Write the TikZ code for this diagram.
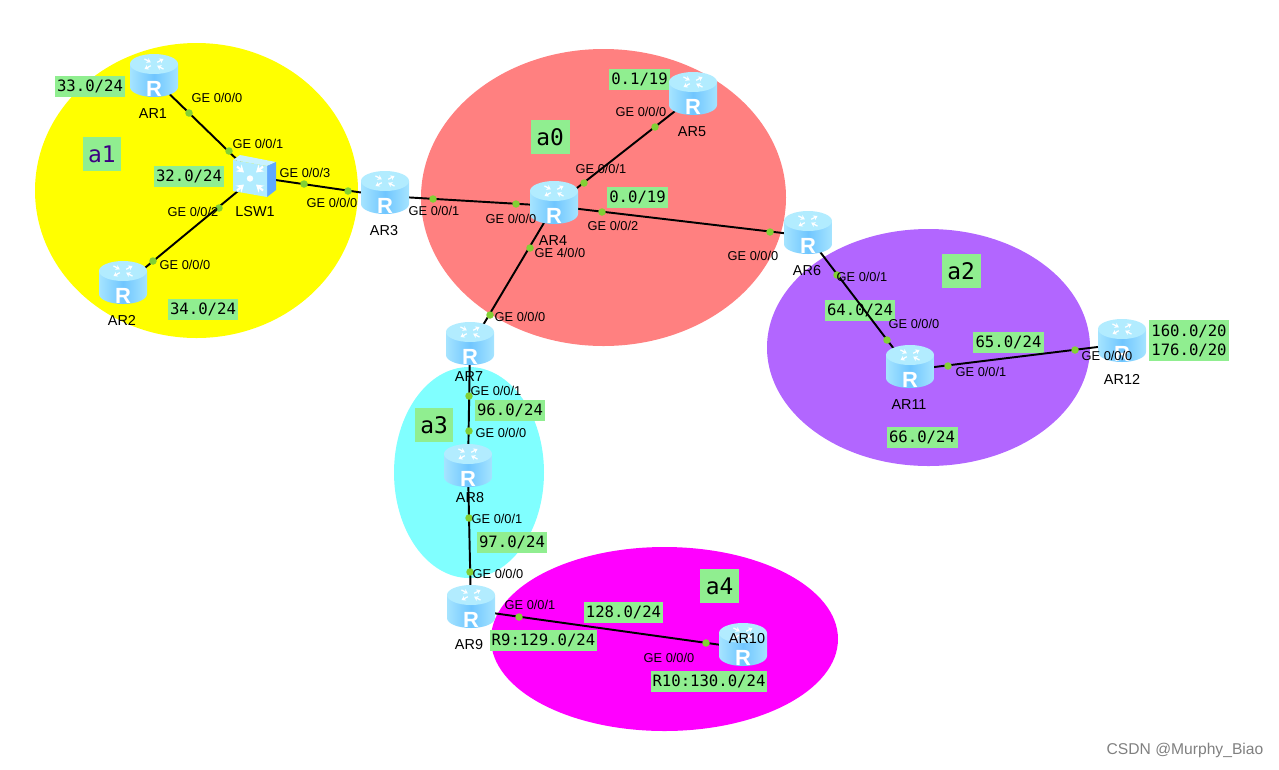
\documentclass[tikz,border=0pt]{standalone}
\usepackage{fontspec}
\setmainfont{Liberation Sans}
\setmonofont{DejaVu Sans Mono}
\usetikzlibrary{arrows.meta}
\definecolor{tagfill}{RGB}{144,238,144}
\definecolor{dotgreen}{RGB}{130,208,52}
\definecolor{yellowarea}{RGB}{255,255,0}
\definecolor{rosearea}{RGB}{255,128,128}
\definecolor{violetarea}{RGB}{178,102,255}
\definecolor{cyanarea}{RGB}{128,255,255}
\definecolor{magentaarea}{RGB}{255,0,255}
\definecolor{icontop}{RGB}{178,236,255}
\definecolor{iconside}{RGB}{112,198,255}
\definecolor{iconedge}{RGB}{165,228,255}
\definecolor{indigotext}{RGB}{60,0,130}
\tikzset{
  hub/.style={circle,inner sep=0pt,minimum size=6mm},
  link/.style={draw=black,line width=1.1pt},
  portdot/.style={circle,fill=dotgreen,inner sep=0pt,minimum size=1.5mm},
  port/.style={inner sep=0pt,font=\fontsize{7.3}{9}\selectfont},
  devname/.style={inner sep=0pt,font=\fontsize{8.2}{10}\selectfont},
  tag/.style={fill=tagfill,inner sep=0pt,minimum height=4.2mm,align=center,
    font=\ttfamily\fontsize{8.9}{10.8}\selectfont},
  areatag/.style={fill=tagfill,inner sep=0pt,minimum width=7.8mm,minimum height=6.8mm,
    text=#1,font=\ttfamily\fontsize{13}{15}\selectfont},
  areatag/.default=black,
  % pictograms
  pics/router/.style={code={
    \shade[left color=iconedge,right color=iconedge,middle color=iconside]
      (-24,-15) -- (-24,8) arc (180:0:24 and 10) -- (24,-15) -- cycle;
    \fill[icontop] (0,-15) ellipse (24 and 10);
    \foreach \a/\d in {45/1,135/-1,225/1,315/-1} {
      \draw[white,line width=0.7pt,-{Stealth[length=2.4pt,width=3pt]}]
        ({(6+3*\d)*cos(\a)*1.5},{-15+(6+3*\d)*sin(\a)*0.8}) --
        ({(6-3*\d)*cos(\a)*1.5},{-15+(6-3*\d)*sin(\a)*0.8});
    }
    \node[text=white,inner sep=0pt,font=\fontsize{12.5}{14}\selectfont\bfseries] (-r) at (0,10) {R};
  }},
  pics/l3switch/.style={code={
    \fill[icontop!70!white] (-22,-17) -- (-15,-22) -- (21,-15) -- (12,-11) -- cycle;
    \fill[iconside!85!blue] (12,-11) -- (21,-15) -- (21,13) -- (12,20) -- cycle;
    \fill[icontop] (-22,-17) -- (12,-11) -- (12,20) -- (-22,14) -- cycle;
    \fill[white] (-5,1.5) circle (3.2);
    \foreach \sx/\sy in {-1/-1,1/-1,-1/1,1/1} {
      \draw[white,line width=1.2pt,-{Stealth[length=4pt,width=5pt]}]
        ({-5+13*\sx},{1.5+12*\sy}) -- ({-5+6*\sx},{1.5+6*\sy});
    }
  }},
}
\begin{document}
\begin{tikzpicture}[x=0.02cm,y=-0.02cm]
  \useasboundingbox (0,0) rectangle (1279,769);
  % areas
  \fill[yellowarea] (196.5,190.5) ellipse (161.5 and 147.5);
  \fill[rosearea] (603.5,197.5) ellipse (182.5 and 148.5);
  \fill[violetarea] (928.5,347.5) ellipse (161.5 and 118.5);
  \fill[cyanarea] (469,472.5) ellipse (75 and 105.5);
  \fill[magentaarea] (664.5,639) ellipse (173.5 and 92);
  % network tags
  \node[areatag=indigotext] (a1) at (102,154) {a1};
  \node[areatag] (a0) at (550,137) {a0};
  \node[areatag] (a2) at (961,271) {a2};
  \node[areatag] (a3) at (434,425) {a3};
  \node[areatag] (a4) at (719.5,586) {a4};
  \node[tag,minimum width=14.2mm] (n33) at (90,86) {33.0/24};
  \node[tag,minimum width=14.2mm] (n32) at (189,176) {32.0/24};
  \node[tag,minimum width=14.2mm] (n34) at (203,309) {34.0/24};
  \node[tag,minimum width=12.2mm] (n01) at (639.5,79) {0.1/19};
  \node[tag,minimum width=12.2mm] (n00) at (637.5,197.5) {0.0/19};
  \node[tag,minimum width=14.2mm] (n64) at (860,310) {64.0/24};
  \node[tag,minimum width=14.2mm] (n65) at (1008.5,342) {65.0/24};
  \node[tag,minimum width=14.2mm] (n66) at (922,437.5) {66.0/24};
  \node[tag,minimum width=16mm,minimum height=8.2mm] (n160) at (1189,340.5) {160.0/20\\176.0/20};
  \node[tag,minimum width=14.2mm] (n96) at (510,410) {96.0/24};
  \node[tag,minimum width=14.2mm] (n97) at (512,542.5) {97.0/24};
  \node[tag,minimum width=15.8mm] (n128) at (623.5,612.5) {128.0/24};
  \node[tag,minimum width=21.4mm] (n129) at (543.5,640) {R9:129.0/24};
  \node[tag,minimum width=23.2mm] (n130) at (709,681) {R10:130.0/24};
  % devices
  \foreach \nm/\xx/\yy in {ar1/154/79,ar2/123/286,lsw1/255/177,ar3/385/196,ar4/554/206,
    ar5/693/97,ar6/808/236,ar7/470/347,ar8/468/469,ar9/471/610,ar10/743/648,ar11/910/370,ar12/1122/344}
    \node[hub] (\nm) at (\xx,\yy) {};
  \draw[link] (ar1) -- (lsw1);
  \draw[link] (ar2) -- (lsw1);
  \draw[link] (lsw1) -- (ar3);
  \draw[link] (ar3) -- (ar4);
  \draw[link] (ar4) -- (ar5);
  \draw[link] (ar4) -- (ar6);
  \draw[link] (ar4) -- (ar7);
  \draw[link] (ar7) -- (ar8);
  \draw[link] (ar8) -- (ar9);
  \draw[link] (ar9) -- (ar10);
  \draw[link] (ar6) -- (ar11);
  \draw[link] (ar11) -- (ar12);
  \foreach \xx/\yy [count=\i] in {189/113,229/151,219/208,153/261,304/184,348/191,433/199,516/204,
    584/183,655/127,602/212,770/232,530/248,490/315,469/396,469/431,469/518,470/572,
    519/617,706/643,837/275,887/340,948/366,1075/350}
    \node[portdot] (dot\i) at (\xx,\yy) {};
  \foreach \nm in {ar1,ar2,ar3,ar4,ar5,ar6,ar7,ar8,ar9,ar10,ar11,ar12}
    \pic (\nm) at (\nm.center) {router};
  \pic (lsw1) at (lsw1.center) {l3switch};
  % device names
  \node[devname] (lar1) at (153,114) {AR1};
  \node[devname] (lar2) at (122,320) {AR2};
  \node[devname] (llsw1) at (255,212) {LSW1};
  \node[devname] (lar3) at (384,231) {AR3};
  \node[devname] (lar4) at (553,241) {AR4};
  \node[devname] (lar5) at (692,132) {AR5};
  \node[devname] (lar6) at (807,271) {AR6};
  \node[devname] (lar7) at (469,377) {AR7};
  \node[devname] (lar8) at (470,498) {AR8};
  \node[devname] (lar9) at (469,645) {AR9};
  \node[devname] (lar10) at (747,639) {AR10};
  \node[devname] (lar11) at (909,405) {AR11};
  \node[devname] (lar12) at (1122,379) {AR12};
  % interface names
  \node[port] (g1) at (217,98) {GE 0/0/0};
  \node[port] (g2) at (258,144) {GE 0/0/1};
  \node[port] (g3) at (305,173) {GE 0/0/3};
  \node[port] (g4) at (332,203) {GE 0/0/0};
  \node[port] (g5) at (193,212) {GE 0/0/2};
  \node[port] (g6) at (185,265) {GE 0/0/0};
  \node[port] (g7) at (434,211) {GE 0/0/1};
  \node[port] (g8) at (511,219) {GE 0/0/0};
  \node[port] (g9) at (601,169) {GE 0/0/1};
  \node[port] (g10) at (641,112) {GE 0/0/0};
  \node[port] (g11) at (613,226) {GE 0/0/2};
  \node[port] (g12) at (753,256) {GE 0/0/0};
  \node[port] (g13) at (560,253) {GE 4/0/0};
  \node[port] (g14) at (520,317) {GE 0/0/0};
  \node[port] (g15) at (496,391) {GE 0/0/1};
  \node[port] (g16) at (501,433) {GE 0/0/0};
  \node[port] (g17) at (497,519) {GE 0/0/1};
  \node[port] (g18) at (498,574) {GE 0/0/0};
  \node[port] (g19) at (530,605) {GE 0/0/1};
  \node[port] (g20) at (669,658) {GE 0/0/0};
  \node[port] (g21) at (862,277) {GE 0/0/1};
  \node[port] (g22) at (914,324) {GE 0/0/0};
  \node[port] (g23) at (981,372) {GE 0/0/1};
  \node[port] (g24) at (1107,356) {GE 0/0/0};
  \node[inner sep=0pt,text=black!50,font=\fontsize{8.9}{10}\selectfont] (mark) at (1185,750) {CSDN @Murphy\_Biao};
\end{tikzpicture}
\end{document}
